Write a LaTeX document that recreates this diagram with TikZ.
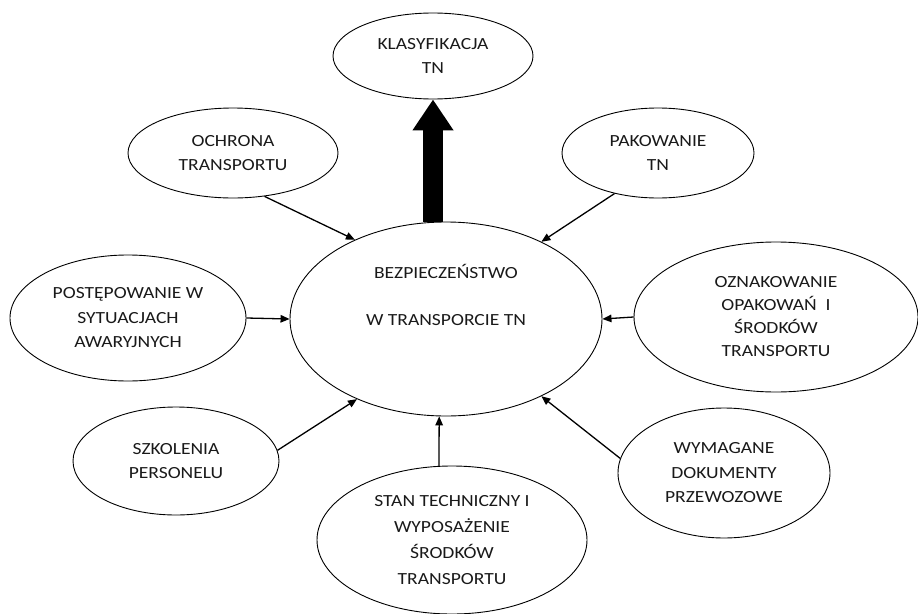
\documentclass[tikz,border=0pt]{standalone}
\usepackage{fontspec}
\setmainfont{Carlito}[FakeStretch=1.15]
\usetikzlibrary{shapes.geometric,arrows.meta}
\begin{document}
\begin{tikzpicture}[x=1pt,y=-1pt,
  el/.style={draw, ellipse, inner sep=0pt, line width=0.9pt, align=center,
    font=\fontsize{17}{24.5}\selectfont, text=black!90},
  conn/.style={line width=1.3pt, -{Triangle[length=9pt,width=7.5pt]}},
  bigarrow/.style={line width=20pt, -{Triangle[length=31pt,width=39pt]}}]
\useasboundingbox (0,0) rectangle (918,613);
\node[el, minimum width=312pt, minimum height=194pt] (c) at (446,319)
  {BEZPIECZEŃSTWO\\[22.5pt] W TRANSPORCIE TN\\[16.5pt]\strut};
\node[el, minimum width=200pt, minimum height=86pt] (k) at (433,56) {KLASYFIKACJA\\TN};
\node[el, minimum width=210pt, minimum height=90pt] (o) at (233,153) {OCHRONA\\TRANSPORTU};
\node[el, minimum width=192pt, minimum height=90pt] (pk) at (658,153) {PAKOWANIE\\TN};
\node[el, minimum width=236pt, minimum height=126pt] (p) at (128,318) {POSTĘPOWANIE W\\SYTUACJACH\\AWARYJNYCH};
\node[el, minimum width=284pt, minimum height=150pt, font=\fontsize{17}{23}\selectfont] (z) at (776,317)
  {OZNAKOWANIE\\OPAKOWAŃ\ \ I\\ŚRODKÓW\\TRANSPORTU};
\node[el, minimum width=206pt, minimum height=108pt] (sz) at (176,461) {SZKOLENIA\\PERSONELU};
\node[el, minimum width=212pt, minimum height=130pt] (w) at (724,473) {WYMAGANE\\DOKUMENTY\\PRZEWOZOWE};
\node[el, minimum width=270pt, minimum height=148pt, font=\fontsize{17}{26}\selectfont] (s) at (452,540)
  {STAN TECHNICZNY I\\WYPOSAŻENIE\\ŚRODKÓW\\TRANSPORTU};
\draw[conn] (o.-54) -- (c.139);
\draw[conn] (pk.223) -- (c.39);
\draw[conn] (p.east) -- (c.west);
\draw[conn] (z.west) -- (c.east);
\draw[conn] (sz.6) -- (c.222);
\draw[conn] (w.172) -- (c.-39);
\draw[conn] (s.100) -- (c.-94);
\draw[bigarrow] (k.south |- c.north) -- (k.south);
\end{tikzpicture}
\end{document}
